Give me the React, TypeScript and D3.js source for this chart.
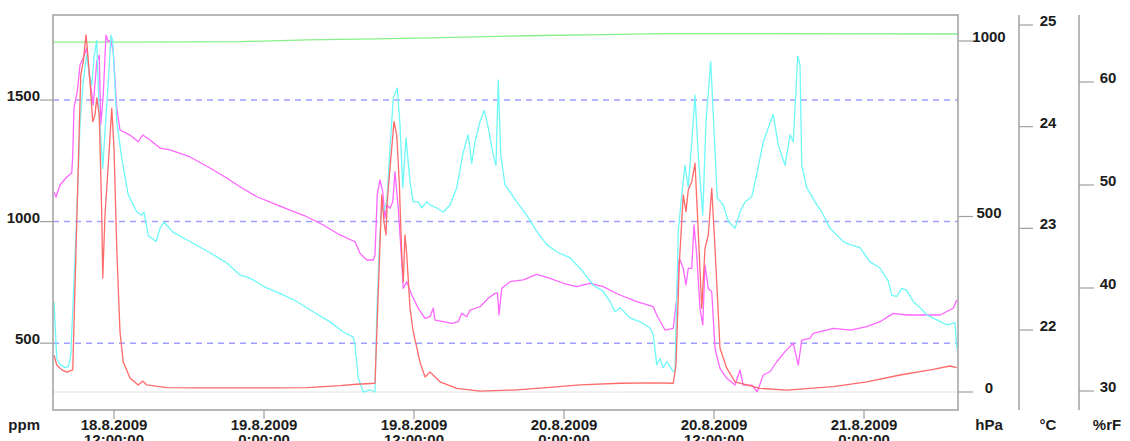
import { useEffect, useRef } from 'react';
import * as d3 from 'd3';

// [hours since 18.8.2009 0:00, value]
const co2 = [
  [7.2, 451], [7.42, 410], [7.82, 390], [8.22, 381], [8.7, 390], [9.34, 1603], [9.54, 1658],
  [9.76, 1768], [9.86, 1714], [10.08, 1576], [10.3, 1411], [10.48, 1439], [10.62, 1509],
  [10.82, 1439], [11.02, 1027], [11.1, 768], [11.28, 1027], [11.54, 1233], [11.82, 1467],
  [12.0, 1303], [12.22, 891], [12.48, 546], [12.74, 422], [13.28, 357], [13.94, 328],
  [14.3, 344], [14.62, 328], [16.22, 317], [18.88, 316], [22.08, 316], [24.74, 316],
  [27.42, 317], [30.08, 325], [31.42, 331], [32.88, 335], [33.42, 1110], [33.6, 998],
  [33.76, 945], [33.86, 1081], [34.08, 1221], [34.4, 1411], [34.62, 1356], [34.82, 1163],
  [35.02, 863], [35.14, 752], [35.28, 945], [35.42, 863], [35.68, 645], [35.94, 546],
  [36.48, 422], [36.88, 361], [37.28, 381], [38.08, 341], [39.42, 314], [41.28, 303],
  [43.94, 307], [46.62, 317], [49.28, 328], [52.48, 335], [55.14, 337], [56.74, 335],
  [56.96, 410], [57.22, 822], [57.54, 1110], [57.76, 1041], [57.94, 1130], [58.22, 1164],
  [58.48, 1240], [58.74, 959], [59.02, 643], [59.28, 890], [59.54, 945], [59.82, 1137],
  [60.08, 890], [60.48, 479], [61.02, 397], [61.68, 341], [62.62, 328], [63.68, 314],
  [65.82, 307], [67.68, 314], [69.54, 321], [72.22, 341], [74.88, 369], [77.54, 392],
  [78.88, 406], [79.42, 399],
];

const temperature = [
  [7.2, 22.28], [7.42, 21.72], [7.68, 21.66], [8.08, 21.63], [8.34, 21.64], [8.54, 21.75],
  [8.74, 22.31], [9.02, 23.13], [9.28, 24.02], [9.54, 24.44], [9.82, 24.71], [10.02, 24.51],
  [10.22, 24.41], [10.4, 24.68], [10.62, 24.85], [10.82, 24.12], [11.1, 23.59], [11.28, 23.95],
  [11.54, 24.44], [11.76, 24.9], [11.9, 24.84], [12.22, 24.05], [12.62, 23.69], [13.14, 23.33],
  [13.82, 23.16], [14.22, 23.13], [14.4, 23.16], [14.74, 22.93], [15.36, 22.87], [15.68, 23.0],
  [16.0, 23.06], [16.74, 22.96], [18.08, 22.87], [19.68, 22.76], [21.02, 22.66], [22.08, 22.54],
  [22.88, 22.51], [23.94, 22.43], [25.28, 22.36], [26.62, 22.28], [27.94, 22.18], [29.28, 22.08],
  [30.34, 21.98], [31.14, 21.93], [31.28, 21.85], [31.54, 21.53], [31.94, 21.39], [32.48, 21.41],
  [32.88, 21.39], [33.02, 22.15], [33.22, 22.81], [33.42, 23.23], [33.54, 23.16], [33.82, 23.26],
  [34.08, 23.79], [34.34, 24.28], [34.66, 24.38], [34.88, 24.02], [35.1, 23.4], [35.36, 23.89],
  [35.68, 23.46], [35.94, 23.26], [36.34, 23.26], [36.62, 23.2], [37.02, 23.26], [37.28, 23.23],
  [37.82, 23.2], [38.34, 23.16], [38.88, 23.23], [39.42, 23.4], [39.94, 23.75], [40.34, 23.92],
  [40.62, 23.64], [40.88, 23.85], [41.28, 24.05], [41.62, 24.16], [41.94, 23.99], [42.34, 23.72],
  [42.56, 23.62], [42.74, 24.46], [42.94, 23.72], [43.28, 23.43], [44.22, 23.26], [45.02, 23.13],
  [45.82, 22.97], [46.62, 22.84], [47.42, 22.77], [48.48, 22.71], [49.54, 22.57], [50.34, 22.44],
  [51.14, 22.38], [51.68, 22.28], [52.08, 22.18], [52.48, 22.22], [53.28, 22.12], [54.08, 22.08],
  [54.88, 22.02], [55.14, 21.95], [55.42, 21.66], [55.68, 21.72], [55.94, 21.63], [56.22, 21.69],
  [56.74, 21.59], [56.88, 21.59], [57.14, 22.97], [57.42, 23.33], [57.68, 23.62], [57.94, 23.4],
  [58.22, 23.85], [58.48, 24.31], [58.74, 23.72], [59.1, 23.13], [59.36, 24.05], [59.74, 24.64],
  [59.94, 24.12], [60.26, 23.3], [60.74, 23.23], [61.14, 23.07], [61.68, 23.0], [62.08, 23.16],
  [62.48, 23.26], [63.02, 23.31], [63.42, 23.53], [63.94, 23.85], [64.34, 23.99], [64.74, 24.12],
  [65.14, 23.82], [65.68, 23.62], [66.08, 23.92], [66.34, 23.85], [66.7, 24.69], [66.88, 24.61],
  [67.02, 23.62], [67.42, 23.4], [68.08, 23.26], [68.62, 23.16], [69.28, 23.0], [70.34, 22.87],
  [70.88, 22.84], [71.68, 22.81], [72.48, 22.67], [73.28, 22.61], [73.94, 22.48], [74.22, 22.34],
  [74.62, 22.33], [75.02, 22.41], [75.42, 22.39], [75.94, 22.28], [76.48, 22.22], [77.02, 22.15],
  [77.82, 22.1], [78.62, 22.05], [79.28, 22.07], [79.42, 21.82],
];

const humidity = [
  [7.2, 49.32], [7.36, 48.83], [7.68, 50.0], [8.22, 50.78], [8.62, 51.16], [8.7, 52.91],
  [8.8, 57.48], [9.06, 59.06], [9.28, 61.65], [9.54, 62.33], [9.82, 63.3], [10.02, 60.68],
  [10.34, 57.77], [10.62, 61.97], [10.82, 62.62], [10.94, 55.83], [11.14, 58.74], [11.36, 64.56],
  [11.54, 63.91], [11.74, 64.08], [11.94, 62.94], [12.22, 57.48], [12.48, 55.34], [13.28, 54.85],
  [13.94, 54.2], [14.3, 54.85], [14.88, 54.37], [15.68, 53.59], [16.48, 53.4], [18.08, 52.72],
  [19.68, 51.65], [21.02, 50.68], [22.08, 49.83], [23.42, 48.86], [24.74, 48.22], [26.08, 47.57],
  [27.42, 46.92], [28.74, 46.12], [30.08, 45.15], [31.28, 44.49], [31.68, 43.37], [32.22, 42.72],
  [32.74, 42.72], [32.88, 43.2], [33.06, 49.03], [33.28, 50.49], [33.5, 49.35], [33.68, 46.77],
  [33.82, 48.06], [34.08, 47.74], [34.3, 48.38], [34.48, 51.29], [34.74, 47.74], [35.02, 42.55],
  [35.14, 39.97], [35.42, 40.61], [35.82, 39.32], [36.34, 38.03], [36.88, 37.06], [37.28, 37.21],
  [37.54, 38.03], [37.68, 36.89], [38.34, 36.73], [39.02, 36.57], [39.54, 36.73], [39.82, 37.54],
  [40.22, 37.21], [40.48, 37.86], [41.28, 38.18], [41.94, 39.0], [42.48, 39.48], [42.68, 39.51],
  [42.8, 37.38], [43.02, 39.97], [43.68, 40.61], [44.74, 40.78], [45.82, 41.33], [46.88, 40.94],
  [47.94, 40.46], [49.02, 40.13], [50.08, 40.46], [51.14, 40.13], [51.94, 39.64], [52.48, 39.32],
  [53.82, 38.67], [55.14, 38.18], [55.42, 37.38], [56.08, 35.92], [56.74, 36.09], [57.02, 39.0],
  [57.22, 42.88], [57.54, 41.91], [57.76, 40.29], [57.94, 41.91], [58.22, 41.91], [58.4, 46.12],
  [58.62, 43.2], [58.88, 38.03], [59.1, 36.41], [59.28, 42.23], [59.54, 39.97], [59.82, 39.64],
  [60.08, 34.14], [60.48, 32.2], [61.02, 31.23], [61.68, 30.58], [62.08, 32.04], [62.34, 30.58],
  [63.02, 30.58], [63.46, 29.93], [63.94, 31.55], [64.48, 31.87], [65.02, 32.84], [65.68, 33.82],
  [66.34, 34.63], [66.74, 32.52], [67.02, 34.95], [67.68, 35.12], [67.94, 35.6], [69.54, 36.09],
  [70.88, 35.92], [72.22, 36.24], [73.28, 36.73], [74.34, 37.54], [75.42, 37.38], [77.02, 37.38],
  [78.08, 37.38], [79.14, 38.03], [79.42, 38.83],
];

const pressure = [
  [7.12, 997], [14, 997], [22, 998], [27.4, 1003], [33, 1006], [37.3, 1009], [45, 1015],
  [52.5, 1019], [56, 1021], [65, 1021], [79.52, 1020],
];

const ppmTicks = [500, 1000, 1500];
const hpaTicks = [0, 500, 1000];
const tempTicks = [22, 23, 24, 25];
const humTicks = [30, 40, 50, 60];

const FONT = "'Liberation Sans', Arial, sans-serif";
const start = new Date(2009, 7, 18).getTime();
const toDate = (h: number) => new Date(start + h * 3600000);

const App = () => {
  const svgRef = useRef<SVGSVGElement>(null);

  useEffect(() => {
    if (!svgRef.current) return;
    const W = 1130, H = 441;
    const left = 53, right = 958, top = 15, bottom = 410;
    const axisColor = '#a0a0a0';

    const svg = d3.select(svgRef.current);
    svg.selectAll('*').remove();
    svg.attr('width', W).attr('height', H);

    const x = d3.scaleTime().domain([toDate(7.12), toDate(79.52)]).range([left, right]);
    const yPpm = d3.scaleLinear().domain([225, 1850]).range([bottom, top]);
    const yHpa = d3.scaleLinear().domain([0, 1000]).range([392, 41]);
    const yTemp = d3.scaleLinear().domain([22, 25]).range([330, 25]);
    const yHum = d3.scaleLinear().domain([30, 60]).range([391, 82]);

    svg.append('rect').attr('width', W).attr('height', H).attr('fill', '#fff');

    // hPa zero line
    svg.append('line')
      .attr('x1', left).attr('x2', right)
      .attr('y1', yHpa(0)).attr('y2', yHpa(0))
      .attr('stroke', '#e2e2e2').attr('stroke-width', 1);

    // dashed ppm grid
    svg.selectAll('.grid')
      .data(ppmTicks)
      .enter()
      .append('line')
      .attr('x1', left).attr('x2', right)
      .attr('y1', d => yPpm(d)).attr('y2', d => yPpm(d))
      .attr('stroke', '#9f9fff').attr('stroke-width', 1.5)
      .attr('stroke-dasharray', '6,5');

    const text = (tx: number, ty: number, s: string, anchor: string) =>
      svg.append('text')
        .attr('x', tx).attr('y', ty)
        .attr('text-anchor', anchor)
        .style('font-family', FONT)
        .style('font-weight', 'bold')
        .style('font-size', '15px')
        .style('fill', '#1c1c1c')
        .text(s);

    const tick = (x1: number, x2: number, ty: number) =>
      svg.append('line')
        .attr('x1', x1).attr('x2', x2).attr('y1', ty).attr('y2', ty)
        .attr('stroke', axisColor).attr('stroke-width', 1.2);

    // left ppm axis
    ppmTicks.forEach(v => {
      tick(40, left, yPpm(v));
      text(40, yPpm(v) + 1, String(v), 'end');
    });

    // hPa axis
    hpaTicks.forEach(v => {
      tick(right, 973, yHpa(v));
      text(989, yHpa(v) + 1, String(v), 'middle');
    });

    // °C axis
    svg.append('line').attr('x1', 1019).attr('x2', 1019).attr('y1', top).attr('y2', bottom)
      .attr('stroke', axisColor).attr('stroke-width', 1.5);
    tempTicks.forEach(v => {
      tick(1019, 1033, yTemp(v));
      text(1048, yTemp(v) + 1, String(v), 'middle');
    });

    // %rF axis
    svg.append('line').attr('x1', 1079).attr('x2', 1079).attr('y1', top).attr('y2', bottom)
      .attr('stroke', axisColor).attr('stroke-width', 1.5);
    humTicks.forEach(v => {
      tick(1079, 1094, yHum(v));
      text(1108, yHum(v) + 1, String(v), 'middle');
    });

    // time axis
    const fmtDate = d3.timeFormat('%-d.%-m.%Y');
    const fmtTime = d3.timeFormat('%-H:%M:%S');
    x.ticks(d3.timeHour.every(12)).forEach(d => {
      svg.append('line')
        .attr('x1', x(d)).attr('x2', x(d)).attr('y1', bottom).attr('y2', 419)
        .attr('stroke', axisColor).attr('stroke-width', 1.2);
      text(x(d), 430, fmtDate(d), 'middle');
      text(x(d), 445, fmtTime(d), 'middle');
    });

    // unit labels
    text(40, 430, 'ppm', 'end');
    text(989, 430, 'hPa', 'middle');
    text(1048, 430, '°C', 'middle');
    text(1107, 430, '%rF', 'middle');

    svg.append('clipPath').attr('id', 'plot-clip')
      .append('rect').attr('x', left).attr('y', top)
      .attr('width', right - left).attr('height', bottom - top);

    const series = [
      { data: pressure, y: yHpa, color: '#88f088' },
      { data: humidity, y: yHum, color: '#ff66ff' },
      { data: temperature, y: yTemp, color: '#6ff8f8' },
      { data: co2, y: yPpm, color: '#ff6a6a' },
    ];

    series.forEach(s => {
      const line = d3.line<number[]>()
        .x(d => x(toDate(d[0])))
        .y(d => s.y(d[1]));
      svg.append('path')
        .datum(s.data)
        .attr('clip-path', 'url(#plot-clip)')
        .attr('fill', 'none')
        .attr('stroke', s.color)
        .attr('stroke-width', 1.3)
        .attr('stroke-linejoin', 'round')
        .attr('d', line);
    });

    // plot frame
    svg.append('rect')
      .attr('x', left).attr('y', top)
      .attr('width', right - left).attr('height', bottom - top)
      .attr('fill', 'none')
      .attr('stroke', axisColor).attr('stroke-width', 1.5);
  }, []);

  return (
    <div style={{ position: 'absolute', left: 0, top: 0, width: 1130, height: 441, overflow: 'hidden' }}>
      <svg ref={svgRef} style={{ display: 'block' }}></svg>
    </div>
  );
};

export default App;
